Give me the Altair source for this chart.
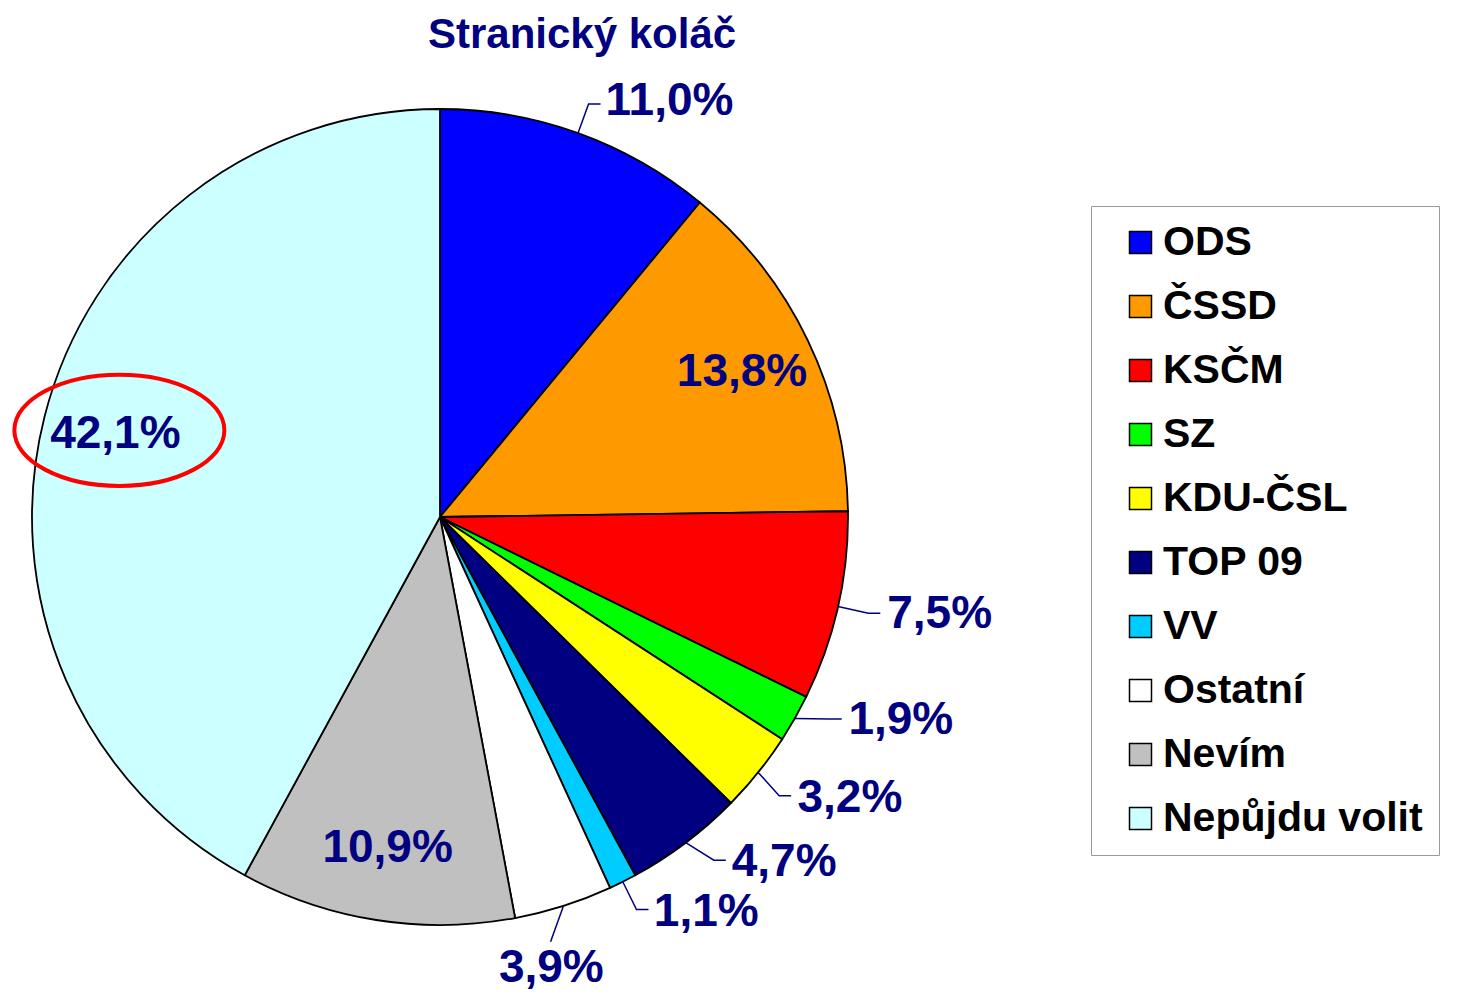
import math
import altair as alt
import pandas as pd

# ---- data ----
parties = ["ODS", "ČSSD", "KSČM", "SZ", "KDU-ČSL", "TOP 09", "VV", "Ostatní", "Nevím", "Nepůjdu volit"]
shares = [11.0, 13.8, 7.5, 1.9, 3.2, 4.7, 1.1, 3.9, 10.9, 42.1]
colors = ["#0000FF", "#FF9900", "#FF0000", "#00FF00", "#FFFF00", "#000080", "#00CCFF", "#FFFFFF", "#C0C0C0", "#CCFFFF"]
inside_labels = ["ČSSD", "Nevím", "Nepůjdu volit"]
highlighted = "Nepůjdu volit"
title_text = "Stranický koláč"

# ---- layout / style ----
W, H = 1440, 984
CX, CY = 432, 509          # pie centre inside the view
R = 408                    # pie radius
R_IN = 335                 # radius of labels drawn inside the slices
R_ANCHOR = 442             # anchor radius of outside labels
TAIL = 12                  # horizontal tail of leader lines
MIN_GAP = 12.0             # minimal angular gap between outside labels (deg)
NAVY = "#000080"
FONT = "Liberation Sans"

total = sum(shares)
cum = 0.0
mids = []
for s in shares:
    mids.append((cum + s / 2) / total * 360.0)
    cum += s


def fmt(v):
    return f"{v:.1f}".replace(".", ",") + "%"


def spread(angles, gap):
    a = list(angles)
    for _ in range(500):
        moved = False
        for i in range(len(a) - 1):
            d = a[i + 1] - a[i]
            if d < gap - 1e-6:
                push = (gap - d) / 2
                a[i] -= push
                a[i + 1] += push
                moved = True
        if not moved:
            break
    return a


df = pd.DataFrame({
    "party": parties,
    "share": shares,
    "idx": list(range(len(parties))),
    "mid": mids,
    "label": [fmt(v) for v in shares],
})

out = df[~df["party"].isin(inside_labels)].sort_values("mid").copy()
out["la"] = spread(out["mid"].tolist(), MIN_GAP)
out["side"] = ["bottom" if 160 <= a <= 200 else ("right" if a < 180 else "left") for a in out["la"]]
out["r"] = R_ANCHOR
ins = df[df["party"].isin(inside_labels)].copy()
ins["r"] = R_IN

line_rows = []
for _, row in out.iterrows():
    line_rows.append({"party": row["party"], "k": 0, "r": R, "a": row["mid"], "off": 0})
    line_rows.append({"party": row["party"], "k": 1, "r": R_ANCHOR - 3, "a": row["la"], "off": 0})
    if row["side"] == "right":
        line_rows.append({"party": row["party"], "k": 2, "r": R_ANCHOR - 3, "a": row["la"], "off": TAIL})
lines_df = pd.DataFrame(line_rows)

deg_scale = alt.Scale(domain=[0, 360], range=[0, 2 * math.pi])

pie = alt.Chart(df).mark_arc(radius=R, stroke="black", strokeWidth=1.8).encode(
    theta=alt.Theta("share:Q", stack=True),
    order=alt.Order("idx:Q"),
    color=alt.Color(
        "party:N",
        sort=parties,
        scale=alt.Scale(domain=parties, range=colors),
        legend=alt.Legend(
            title=None, orient="none", legendX=1083, legendY=198,
            symbolType="square", symbolSize=484, symbolStrokeColor="black",
            symbolStrokeWidth=1.5, labelFont=FONT, labelFontSize=41,
            labelFontWeight="bold", labelColor="black", labelLimit=600,
            rowPadding=22, padding=16, strokeColor="#9a9a9a", fillColor="white",
            labelOffset=2, symbolOffset=13,
        ),
    ),
    x=alt.value(CX),
    y=alt.value(CY),
)

txt_style = dict(font=FONT, fontSize=46, fontWeight="bold", color=NAVY)

inside_txt = alt.Chart(ins).mark_text(align="center", baseline="middle", **txt_style).encode(
    theta=alt.Theta("mid:Q", scale=deg_scale),
    radius=alt.Radius("r:Q", scale=None),
    text="label:N",
    x=alt.value(CX), y=alt.value(CY),
)

right_txt = alt.Chart(out[out["side"] == "right"]).mark_text(
    align="left", baseline="middle", dx=TAIL + 4, **txt_style).encode(
    theta=alt.Theta("la:Q", scale=deg_scale),
    radius=alt.Radius("r:Q", scale=None),
    text="label:N",
    x=alt.value(CX), y=alt.value(CY),
)

bottom_txt = alt.Chart(out[out["side"] == "bottom"]).mark_text(
    align="center", baseline="top", dy=1, **txt_style).encode(
    theta=alt.Theta("la:Q", scale=deg_scale),
    radius=alt.Radius("r:Q", scale=None),
    text="label:N",
    x=alt.value(CX), y=alt.value(CY),
)

leaders = alt.Chart(lines_df).transform_calculate(
    px=f"{CX} + datum.r * sin(datum.a * PI / 180) + datum.off",
    py=f"{CY} - datum.r * cos(datum.a * PI / 180)",
).mark_line(color=NAVY, strokeWidth=1.5).encode(
    x=alt.X("px:Q", scale=None, axis=None),
    y=alt.Y("py:Q", scale=None, axis=None),
    detail="party:N",
    order="k:Q",
)

ellipse_path = "M -1 0 A 1 0.53 0 1 1 1 0 A 1 0.53 0 1 1 -1 0 Z"
ring = alt.Chart(ins[ins["party"] == highlighted]).transform_calculate(
    px=f"{CX} + datum.r * sin(datum.mid * PI / 180) + 4",
    py=f"{CY} - datum.r * cos(datum.mid * PI / 180) - 4",
).mark_point(shape=ellipse_path, size=44100, filled=False, stroke="#FF0000",
             strokeWidth=4, opacity=1).encode(
    x=alt.X("px:Q", scale=None, axis=None),
    y=alt.Y("py:Q", scale=None, axis=None),
)

title = alt.Chart(pd.DataFrame({"t": [title_text]})).mark_text(
    font=FONT, fontSize=42, fontWeight="bold", color=NAVY, align="center",
    baseline="top").encode(
    text="t:N", x=alt.value(574), y=alt.value(7),
)

chart = alt.layer(pie, leaders, inside_txt, right_txt, bottom_txt, ring, title).resolve_scale(
    theta="independent"
).properties(
    width=W, height=H, padding=0, autosize=alt.AutoSizeParams(type="none"),
    background="white",
).configure_view(strokeWidth=0)

chart.save("out.html", embed_options={"renderer": "svg", "actions": False})
